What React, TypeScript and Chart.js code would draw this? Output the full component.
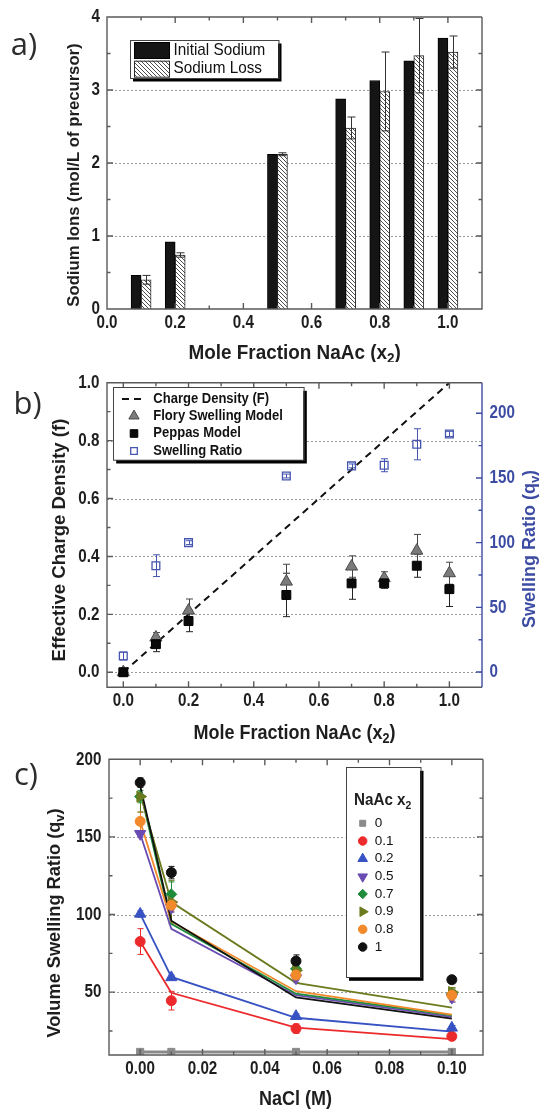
import React, { useEffect, useRef } from "react";
import { Chart, registerables } from "chart.js";
import { drawPoint } from "chart.js/helpers";

Chart.register(...registerables);

// ---------------- Panel a: sodium ions ----------------
const naAcX = [0.1, 0.2, 0.5, 0.7, 0.8, 0.9, 1.0];
const initialSodium = [0.46, 0.92, 2.12, 2.88, 3.13, 3.4, 3.71];
const sodiumLoss = [0.4, 0.74, 2.12, 2.48, 2.98, 3.47, 3.52];
const sodiumLossErr = [0.06, 0.03, 0.02, 0.15, 0.54, 0.51, 0.22];
const aXTicks = [0, 0.2, 0.4, 0.6, 0.8, 1.0];
const aXMinor = [0.1, 0.3, 0.5, 0.7, 0.9];
const aYTicks = [0, 1, 2, 3, 4];
const aYMinor = [0.5, 1.5, 2.5, 3.5];
const aGrid = [1, 2, 3];

// ---------------- Panel b: charge density ----------------
const bX = [0, 0.1, 0.2, 0.5, 0.7, 0.8, 0.9, 1.0];
const chargeX = [0, 1];
const chargeF = [0, 1];
const flory = [0, 0.12, 0.213, 0.313, 0.365, 0.325, 0.42, 0.342];
const floryErr = [0, 0.017, 0.04, 0.06, 0.037, 0.022, 0.056, 0.038];
const peppas = [0, 0.097, 0.177, 0.267, 0.307, 0.307, 0.368, 0.287];
const peppasErr = [0, 0.026, 0.037, 0.075, 0.055, 0.017, 0.04, 0.06];
const swelling = [12.4, 82.2, 100, 151.5, 159.3, 159.8, 176, 184];
const swellingErr = [3, 8.4, 1.5, 1.5, 1.5, 5, 12, 2];
const bXTicks = [0, 0.2, 0.4, 0.6, 0.8, 1.0];
const bXMinor = [0.1, 0.3, 0.5, 0.7, 0.9];
const bYTicks = [0, 0.2, 0.4, 0.6, 0.8, 1.0];
const bYMinor = [0.1, 0.3, 0.5, 0.7, 0.9];
const bY2Ticks = [0, 50, 100, 150, 200];
const bY2Minor = [25, 75, 125, 175];
const bGrid = [0, 0.2, 0.4, 0.6, 0.8];

// ---------------- Panel c: NaCl ----------------
const naclX = [0, 0.01, 0.05, 0.1];
const cLabels = ["0", "0.1", "0.2", "0.5", "0.7", "0.9", "0.8", "1"];
const cColors = ["#8a8a8a", "#ec2a2c", "#3752c2", "#6a4bb2", "#1f8c3b", "#6b7b1e", "#f28a2c", "#111111"];
const q0 = [11.5, 11.5, 11.5, 11.5];
const q01 = [82.6, 44.5, 26.5, 21.5];
const q02 = [100.4, 59.5, 34.5, 27];
const q05 = [152, 104.5, 59, 46.5];
const q07 = [176, 113, 65, 49];
const q09 = [176, 108, 64, 50];
const q08 = [160, 106, 61, 48];
const q1 = [185, 127, 70, 58];
const q0Err = [0, 0, 0, 0];
const q01Err = [8.3, 6, 3, 2];
const q02Err = [2, 1.5, 1.5, 1.5];
const q05Err = [2, 3, 3, 3];
const q07Err = [4, 8, 3, 3];
const q09Err = [10, 14, 3, 3];
const q08Err = [6, 4, 3, 4];
const q1Err = [3, 4, 4, 2];
const fit0 = [11.5, 11.5, 11.5, 11.5];
const fit01 = [82.6, 49.6, 27.2, 19.7];
const fit02 = [100.4, 59.8, 33.5, 24.6];
const fit05 = [152, 90.8, 48, 34];
const fit07 = [180, 94, 49, 35];
const fit09 = [178, 108, 56, 40];
const fit08 = [160, 95.5, 50.6, 35.5];
const fit1 = [183, 96, 46.6, 33];
const cSeries = [q0, q01, q02, q05, q07, q09, q08, q1];
const cErrors = [q0Err, q01Err, q02Err, q05Err, q07Err, q09Err, q08Err, q1Err];
const cFits = [fit0, fit01, fit02, fit05, fit07, fit09, fit08, fit1];
const cStyles = ["rect", "circle", "triangle", "triangle", "rectRot", "triangle", "circle", "circle"];
const cRotations = [0, 0, 0, 180, 0, 90, 0, 0];
const cRadii = [5, 5, 6.5, 6.5, 5.5, 6.5, 5, 5];
const cXTicks = [0, 0.02, 0.04, 0.06, 0.08, 0.1];
const cXMinor = [0.01, 0.03, 0.05, 0.07, 0.09];
const cYTicks = [50, 100, 150, 200];
const cYMinor = [25, 75, 125, 175];
const cGrid = [50, 100, 150];

// ---------------- helpers ----------------
const SANS = "'Liberation Sans', Arial, Helvetica, sans-serif";
const LABEL_FONT = "'Open Sans', 'Noto Sans', sans-serif";
const AXIS_COLOR = "#5a5a5a";
const GRID_COLOR = "#9c9c9c";
const TEXT_COLOR = "#1e1e1e";
const BLUE = "#3d4ca3";

type Seg = { t: string; sub?: boolean };
type TextSpec = {
  segs: Seg[];
  x: number;
  y: number;
  size: number;
  weight?: string;
  color?: string;
  rot?: number;
  sx?: number;
  align?: "left" | "center" | "right";
  family?: string;
};

function drawText(ctx: CanvasRenderingContext2D, s: TextSpec) {
  const fam = s.family || SANS;
  const w = s.weight || "bold";
  const main = `${w} ${s.size}px ${fam}`;
  const sub = `${w} ${Math.round(s.size * 0.7)}px ${fam}`;
  ctx.save();
  ctx.translate(s.x, s.y);
  if (s.rot) ctx.rotate(s.rot);
  ctx.scale(s.sx ?? 1, 1);
  let total = 0;
  for (const g of s.segs) {
    ctx.font = g.sub ? sub : main;
    total += ctx.measureText(g.t).width;
  }
  let cx = s.align === "left" ? 0 : s.align === "right" ? -total : -total / 2;
  ctx.textBaseline = "middle";
  ctx.textAlign = "left";
  ctx.fillStyle = s.color || TEXT_COLOR;
  for (const g of s.segs) {
    ctx.font = g.sub ? sub : main;
    ctx.fillText(g.t, cx, g.sub ? s.size * 0.3 : 0);
    cx += ctx.measureText(g.t).width;
  }
  ctx.restore();
}

function drawErrors(chart: any) {
  const ctx: CanvasRenderingContext2D = chart.ctx;
  chart.data.datasets.forEach((ds: any, di: number) => {
    if (!ds.errors) return;
    const meta = chart.getDatasetMeta(di);
    const ys = chart.scales[meta.yAxisID];
    ctx.save();
    ctx.strokeStyle = ds.errorColor || "#000";
    ctx.lineWidth = 1;
    const cw = ds.capWidth ?? 3.5;
    meta.data.forEach((el: any, i: number) => {
      const e = ds.errors[i];
      if (!e) return;
      const v = ds.data[i].y;
      const x = Math.round(el.x) + 0.5;
      const y1 = ys.getPixelForValue(v + e);
      const y2 = ys.getPixelForValue(v - e);
      ctx.beginPath();
      ctx.moveTo(x, y1);
      ctx.lineTo(x, y2);
      ctx.moveTo(x - cw, y1);
      ctx.lineTo(x + cw, y1);
      ctx.moveTo(x - cw, y2);
      ctx.lineTo(x + cw, y2);
      ctx.stroke();
    });
    ctx.restore();
  });
}

type AxisTicks = { major: number[]; minor: number[]; fmt: (v: number) => string };
type LegendCfg = {
  x: number;
  y: number;
  w: number;
  h: number;
  shadow: number;
  rows: { ds: number; y: number }[];
  markerX: number;
  textX: number;
  size: number;
  weight: string;
  sx: number;
  swatch?: { w: number; h: number };
  markerScale?: number;
  title?: TextSpec;
};
type DecorCfg = {
  x: AxisTicks;
  y: AxisTicks;
  y2?: AxisTicks & { color: string };
  grid: number[];
  tickSize: number;
  tickSx: number;
  xLabelDy: number;
  yLabelGap: number;
  texts: TextSpec[];
  legend?: LegendCfg;
  errorsFront?: boolean;
};

function drawLegend(chart: any, lg: LegendCfg) {
  const ctx: CanvasRenderingContext2D = chart.ctx;
  ctx.save();
  ctx.fillStyle = "#000";
  ctx.fillRect(lg.x + lg.shadow, lg.y + lg.shadow, lg.w, lg.h);
  ctx.fillStyle = "#fff";
  ctx.fillRect(lg.x, lg.y, lg.w, lg.h);
  ctx.strokeStyle = "#444";
  ctx.lineWidth = 1;
  ctx.strokeRect(Math.round(lg.x) + 0.5, Math.round(lg.y) + 0.5, lg.w, lg.h);
  if (lg.title) drawText(ctx, lg.title);
  for (const r of lg.rows) {
    const ds: any = chart.data.datasets[r.ds];
    if (lg.swatch) {
      const sw = lg.swatch;
      ctx.fillStyle = ds.backgroundColor;
      ctx.fillRect(lg.markerX, r.y - sw.h / 2, sw.w, sw.h);
      ctx.strokeStyle = ds.borderColor;
      ctx.lineWidth = 1;
      ctx.strokeRect(lg.markerX + 0.5, r.y - sw.h / 2 + 0.5, sw.w, sw.h);
    } else if (ds.borderDash) {
      ctx.strokeStyle = ds.borderColor;
      ctx.lineWidth = ds.borderWidth;
      ctx.setLineDash(ds.borderDash);
      ctx.beginPath();
      ctx.moveTo(lg.markerX - 12, r.y);
      ctx.lineTo(lg.markerX + 12, r.y);
      ctx.stroke();
      ctx.setLineDash([]);
    } else {
      ctx.fillStyle = ds.pointBackgroundColor;
      ctx.strokeStyle = ds.pointBorderColor;
      ctx.lineWidth = ds.pointBorderWidth ?? 1;
      drawPoint(
        ctx,
        {
          pointStyle: ds.pointStyle,
          rotation: ds.pointRotation || 0,
          radius: ds.pointRadius * (lg.markerScale ?? 1),
          borderWidth: ds.pointBorderWidth ?? 1,
        } as any,
        lg.markerX,
        r.y
      );
    }
    drawText(ctx, {
      segs: [{ t: ds.label }],
      x: lg.textX,
      y: r.y,
      size: lg.size,
      weight: lg.weight,
      sx: lg.sx,
      align: "left",
      color: "#111",
    });
  }
  ctx.restore();
}

function decor(cfg: DecorCfg) {
  return {
    id: "decor",
    beforeDatasetsDraw(chart: any) {
      const { ctx, chartArea: a } = chart;
      const ys = chart.scales.y;
      ctx.save();
      ctx.strokeStyle = GRID_COLOR;
      ctx.lineWidth = 1;
      ctx.setLineDash([2, 2]);
      ctx.beginPath();
      for (const v of cfg.grid) {
        const y = Math.round(ys.getPixelForValue(v)) + 0.5;
        ctx.moveTo(a.left, y);
        ctx.lineTo(a.right, y);
      }
      ctx.stroke();
      ctx.restore();
      if (!cfg.errorsFront) drawErrors(chart);
    },
    afterDatasetsDraw(chart: any) {
      if (cfg.errorsFront) drawErrors(chart);
      const ctx: CanvasRenderingContext2D = chart.ctx;
      const a = chart.chartArea;
      const xs = chart.scales.x;
      const ys = chart.scales.y;
      const y2s = chart.scales.y2;
      const L = a.left, R = a.right, T = a.top, B = a.bottom;
      ctx.save();
      ctx.lineWidth = 1.4;
      ctx.strokeStyle = AXIS_COLOR;
      ctx.beginPath();
      const xt: [number, number][] = [
        ...cfg.x.major.map((v) => [v, 6] as [number, number]),
        ...cfg.x.minor.map((v) => [v, 3.5] as [number, number]),
      ];
      for (const [v, len] of xt) {
        const px = xs.getPixelForValue(v);
        ctx.moveTo(px, B);
        ctx.lineTo(px, B - len);
        ctx.moveTo(px, T);
        ctx.lineTo(px, T + len);
      }
      const yt: [number, number][] = [
        ...cfg.y.major.map((v) => [v, 6] as [number, number]),
        ...cfg.y.minor.map((v) => [v, 3.5] as [number, number]),
      ];
      for (const [v, len] of yt) {
        const py = ys.getPixelForValue(v);
        ctx.moveTo(L, py);
        ctx.lineTo(L + len, py);
        if (!cfg.y2) {
          ctx.moveTo(R, py);
          ctx.lineTo(R - len, py);
        }
      }
      ctx.moveTo(R, T);
      ctx.lineTo(L, T);
      ctx.lineTo(L, B);
      ctx.lineTo(R, B);
      if (!cfg.y2) ctx.lineTo(R, T);
      ctx.stroke();
      if (cfg.y2 && y2s) {
        ctx.strokeStyle = cfg.y2.color;
        ctx.beginPath();
        ctx.moveTo(R, T);
        ctx.lineTo(R, B);
        const y2t: [number, number][] = [
          ...cfg.y2.major.map((v) => [v, 6] as [number, number]),
          ...cfg.y2.minor.map((v) => [v, 3.5] as [number, number]),
        ];
        for (const [v, len] of y2t) {
          const py = y2s.getPixelForValue(v);
          ctx.moveTo(R, py);
          ctx.lineTo(R - len, py);
        }
        ctx.stroke();
      }
      ctx.restore();
      // tick labels
      for (const v of cfg.x.major) {
        drawText(ctx, {
          segs: [{ t: cfg.x.fmt(v) }],
          x: xs.getPixelForValue(v),
          y: B + cfg.xLabelDy,
          size: cfg.tickSize,
          sx: cfg.tickSx,
        });
      }
      for (const v of cfg.y.major) {
        drawText(ctx, {
          segs: [{ t: cfg.y.fmt(v) }],
          x: L - cfg.yLabelGap,
          y: ys.getPixelForValue(v),
          size: cfg.tickSize,
          sx: cfg.tickSx,
          align: "right",
        });
      }
      if (cfg.y2 && y2s) {
        for (const v of cfg.y2.major) {
          drawText(ctx, {
            segs: [{ t: cfg.y2.fmt(v) }],
            x: R + cfg.yLabelGap,
            y: y2s.getPixelForValue(v),
            size: cfg.tickSize,
            sx: cfg.tickSx,
            align: "left",
            color: cfg.y2.color,
          });
        }
      }
      for (const t of cfg.texts) drawText(ctx, t);
      if (cfg.legend) drawLegend(chart, cfg.legend);
    },
  };
}

function hiddenAxis(extra: any) {
  return {
    type: "linear",
    ticks: { display: false },
    grid: { display: false, drawTicks: false },
    border: { display: false },
    ...extra,
  };
}

function makeHatch(): any {
  const c = document.createElement("canvas");
  c.width = 4;
  c.height = 4;
  const g = c.getContext("2d");
  if (!g) return "#ccc";
  g.fillStyle = "#fff";
  g.fillRect(0, 0, 4, 4);
  g.strokeStyle = "#3a3a3a";
  g.lineWidth = 0.9;
  g.beginPath();
  for (let k = -4; k <= 4; k += 4) {
    g.moveTo(k, 0);
    g.lineTo(k + 4, 4);
  }
  g.stroke();
  return g.createPattern(c, "repeat") || "#ccc";
}

const HALF_PI = Math.PI / 2;
const fmt1 = (v: number) => v.toFixed(1);
const fmt0 = (v: number) => v.toFixed(0);
const fmt2 = (v: number) => v.toFixed(2);

const baseOptions = {
  responsive: false,
  animation: false,
  events: [],
  plugins: { legend: { display: false }, tooltip: { enabled: false } },
};

function buildA(canvas: HTMLCanvasElement) {
  const hatch = makeHatch();
  return new Chart(canvas, {
    type: "bar",
    data: {
      datasets: [
        {
          label: "Initial Sodium",
          data: naAcX.map((x, i) => ({ x, y: initialSodium[i] })),
          backgroundColor: "#151515",
          borderColor: "#000",
          borderWidth: 1,
          barThickness: 10,
        },
        {
          label: "Sodium Loss",
          data: naAcX.map((x, i) => ({ x, y: sodiumLoss[i] })),
          backgroundColor: hatch,
          borderColor: "#2a2a2a",
          borderWidth: 1,
          barThickness: 10,
          errors: sodiumLossErr,
          errorColor: "#333",
          capWidth: 4,
        } as any,
      ],
    },
    options: {
      ...baseOptions,
      layout: { padding: { left: 0, top: 17, right: 57, bottom: 0 } },
      scales: {
        x: hiddenAxis({ min: 0, max: 1.1, offset: false, afterFit: (s: any) => { s.height = 53; } }),
        y: hiddenAxis({ min: 0, max: 4, afterFit: (s: any) => { s.width = 107; } }),
      },
    } as any,
    plugins: [
      decor({
        x: { major: aXTicks, minor: aXMinor, fmt: fmt1 },
        y: { major: aYTicks, minor: aYMinor, fmt: fmt0 },
        grid: aGrid,
        tickSize: 19,
        tickSx: 0.8,
        xLabelDy: 14,
        yLabelGap: 7,
        errorsFront: true,
        texts: [
          { segs: [{ t: "a)" }], x: 24, y: 46, size: 31, weight: "normal", family: LABEL_FONT, color: "#2d2d2d" },
          { segs: [{ t: "Mole Fraction NaAc (x" }, { t: "2", sub: true }, { t: ")" }], x: 294.6, y: 353, size: 21, sx: 0.9 },
          { segs: [{ t: "Sodium Ions (mol/L of precursor)" }], x: 74.5, y: 175, size: 16.7, rot: -HALF_PI },
        ],
        legend: {
          x: 129.5,
          y: 40,
          w: 148.5,
          h: 38,
          shadow: 3.5,
          rows: [
            { ds: 0, y: 50 },
            { ds: 1, y: 68.7 },
          ],
          markerX: 134,
          textX: 173.5,
          size: 17,
          weight: "normal",
          sx: 0.9,
          swatch: { w: 35, h: 16 },
        },
      }),
    ],
  });
}

function buildB(canvas: HTMLCanvasElement) {
  const pts = (ys: number[]) => bX.map((x, i) => ({ x, y: ys[i] }));
  return new Chart(canvas, {
    type: "scatter",
    data: {
      datasets: [
        {
          label: "Peppas Model",
          data: pts(peppas),
          pointStyle: "rect",
          pointRadius: 6.3,
          pointBackgroundColor: "#0a0a0a",
          pointBorderColor: "#000",
          pointBorderWidth: 1,
          backgroundColor: "#0a0a0a",
          borderColor: "#000",
          errors: peppasErr,
          errorColor: "#222",
        },
        {
          label: "Flory Swelling Model",
          data: pts(flory),
          pointStyle: "triangle",
          pointRadius: 7,
          pointBackgroundColor: "#7b7b7b",
          pointBorderColor: "#4a4a4a",
          pointBorderWidth: 1,
          backgroundColor: "#7b7b7b",
          borderColor: "#4a4a4a",
          errors: floryErr,
          errorColor: "#444",
        },
        {
          label: "Swelling Ratio",
          data: pts(swelling),
          yAxisID: "y2",
          pointStyle: "rect",
          pointRadius: 5.5,
          pointBackgroundColor: "rgba(255,255,255,0)",
          pointBorderColor: "#4656b0",
          pointBorderWidth: 1.3,
          backgroundColor: "rgba(255,255,255,0)",
          borderColor: "#4656b0",
          errors: swellingErr,
          errorColor: "#4656b0",
        },
        {
          label: "Charge Density (F)",
          data: chargeX.map((x, i) => ({ x, y: chargeF[i] })),
          showLine: true,
          pointRadius: 0,
          borderColor: "#111",
          borderWidth: 2,
          borderDash: [7, 5],
        },
      ] as any,
    },
    options: {
      ...baseOptions,
      layout: { padding: { left: 0, top: 20.7, right: 0, bottom: 0 } },
      scales: {
        x: hiddenAxis({ min: -0.05, max: 1.1, afterFit: (s: any) => { s.height = 57.7; } }),
        y: hiddenAxis({ min: -0.052, max: 1.0, afterFit: (s: any) => { s.width = 107; } }),
        y2: hiddenAxis({ position: "right", min: -11.8, max: 223.6, afterFit: (s: any) => { s.width = 57; } }),
      },
    } as any,
    plugins: [
      decor({
        x: { major: bXTicks, minor: bXMinor, fmt: fmt1 },
        y: { major: bYTicks, minor: bYMinor, fmt: fmt1 },
        y2: { major: bY2Ticks, minor: bY2Minor, fmt: fmt0, color: BLUE },
        grid: bGrid,
        tickSize: 19,
        tickSx: 0.8,
        xLabelDy: 13.4,
        yLabelGap: 7.5,
        texts: [
          { segs: [{ t: "b)" }], x: 27.5, y: 43, size: 31, weight: "normal", family: LABEL_FONT, color: "#2d2d2d" },
          { segs: [{ t: "Mole Fraction NaAc (x" }, { t: "2", sub: true }, { t: ")" }], x: 294.6, y: 371, size: 20, sx: 0.9 },
          { segs: [{ t: "Effective Charge Density (f)" }], x: 60, y: 178, size: 18.6, rot: -HALF_PI },
          { segs: [{ t: "Swelling Ratio (q" }, { t: "v", sub: true }, { t: ")" }], x: 530, y: 187, size: 18, rot: -HALF_PI, color: BLUE },
        ],
        legend: {
          x: 112.7,
          y: 25.3,
          w: 190.6,
          h: 72.7,
          shadow: 3.5,
          rows: [
            { ds: 3, y: 37 },
            { ds: 1, y: 54 },
            { ds: 0, y: 71.5 },
            { ds: 2, y: 89 },
          ],
          markerX: 134,
          textX: 153.3,
          size: 14,
          weight: "bold",
          sx: 0.93,
          markerScale: 0.85,
        },
      }),
    ],
  });
}

function buildC(canvas: HTMLCanvasElement) {
  const markers = cSeries.map((ys, k) => ({
    label: cLabels[k],
    data: naclX.map((x, i) => ({ x, y: ys[i] })),
    pointStyle: cStyles[k],
    pointRotation: cRotations[k],
    pointRadius: cRadii[k],
    pointBackgroundColor: cColors[k],
    pointBorderColor: cColors[k],
    pointBorderWidth: 1,
    backgroundColor: cColors[k],
    borderColor: cColors[k],
    errors: cErrors[k],
    errorColor: cColors[k],
    capWidth: 3,
  }));
  const fits = cFits.map((ys, k) => ({
    label: cLabels[k] + " fit",
    data: naclX.map((x, i) => ({ x, y: ys[i] })),
    showLine: true,
    pointRadius: 0,
    borderColor: cColors[k],
    borderWidth: k === 0 ? 3 : 1.8,
  }));
  // draw black markers on top: reverse marker order for drawing priority
  const datasets = [...markers.slice().reverse(), ...fits.slice().reverse()];
  const idx = (k: number) => 7 - k;
  const legendRows = [78.3, 96, 113.7, 131.7, 149, 166.7, 184.3, 202];
  return new Chart(canvas, {
    type: "scatter",
    data: { datasets: datasets as any },
    options: {
      ...baseOptions,
      layout: { padding: { left: 0, top: 14.3, right: 56, bottom: 0 } },
      scales: {
        x: hiddenAxis({ min: -0.01, max: 0.11, afterFit: (s: any) => { s.height = 56; } }),
        y: hiddenAxis({ min: 9.5, max: 200, afterFit: (s: any) => { s.width = 109; } }),
      },
    } as any,
    plugins: [
      decor({
        x: { major: cXTicks, minor: cXMinor, fmt: fmt2 },
        y: { major: cYTicks, minor: cYMinor, fmt: fmt0 },
        grid: cGrid,
        tickSize: 19,
        tickSx: 0.8,
        xLabelDy: 13.3,
        yLabelGap: 7.6,
        texts: [
          { segs: [{ t: "c)" }], x: 26, y: 31, size: 31, weight: "normal", family: LABEL_FONT, color: "#2d2d2d" },
          { segs: [{ t: "NaCl (M)" }], x: 295.6, y: 354.3, size: 20, sx: 0.9 },
          { segs: [{ t: "Volume Swelling Ratio (q" }, { t: "v", sub: true }, { t: ")" }], x: 55, y: 178, size: 18.2, rot: -HALF_PI },
        ],
        legend: {
          x: 345.5,
          y: 22.3,
          w: 74.5,
          h: 210,
          shadow: 3.5,
          rows: cLabels.map((_, k) => ({ ds: idx(k), y: legendRows[k] })),
          markerX: 362.7,
          textX: 374.7,
          size: 13.5,
          weight: "normal",
          sx: 1,
          markerScale: 0.85,
          title: { segs: [{ t: "NaAc x" }, { t: "2", sub: true }], x: 354, y: 56, size: 16, sx: 0.95, align: "left" },
        },
      }),
    ],
  });
}

function ChartCanvas({ top, height, build }: { top: number; height: number; build: (c: HTMLCanvasElement) => Chart }) {
  const ref = useRef<HTMLCanvasElement>(null);
  useEffect(() => {
    if (!ref.current) return;
    const ch = build(ref.current);
    return () => ch.destroy();
  }, []);
  return (
    <canvas
      ref={ref}
      width={539}
      height={height}
      style={{ position: "absolute", left: 0, top, width: 539, height, display: "block" }}
    />
  );
}

export default function App() {
  return (
    <div style={{ position: "absolute", left: 0, top: 0, width: 539, height: 1111, background: "#fff", overflow: "hidden" }}>
      <ChartCanvas top={0} height={362} build={buildA} />
      <ChartCanvas top={362} height={383} build={buildB} />
      <ChartCanvas top={745} height={366} build={buildC} />
    </div>
  );
}
